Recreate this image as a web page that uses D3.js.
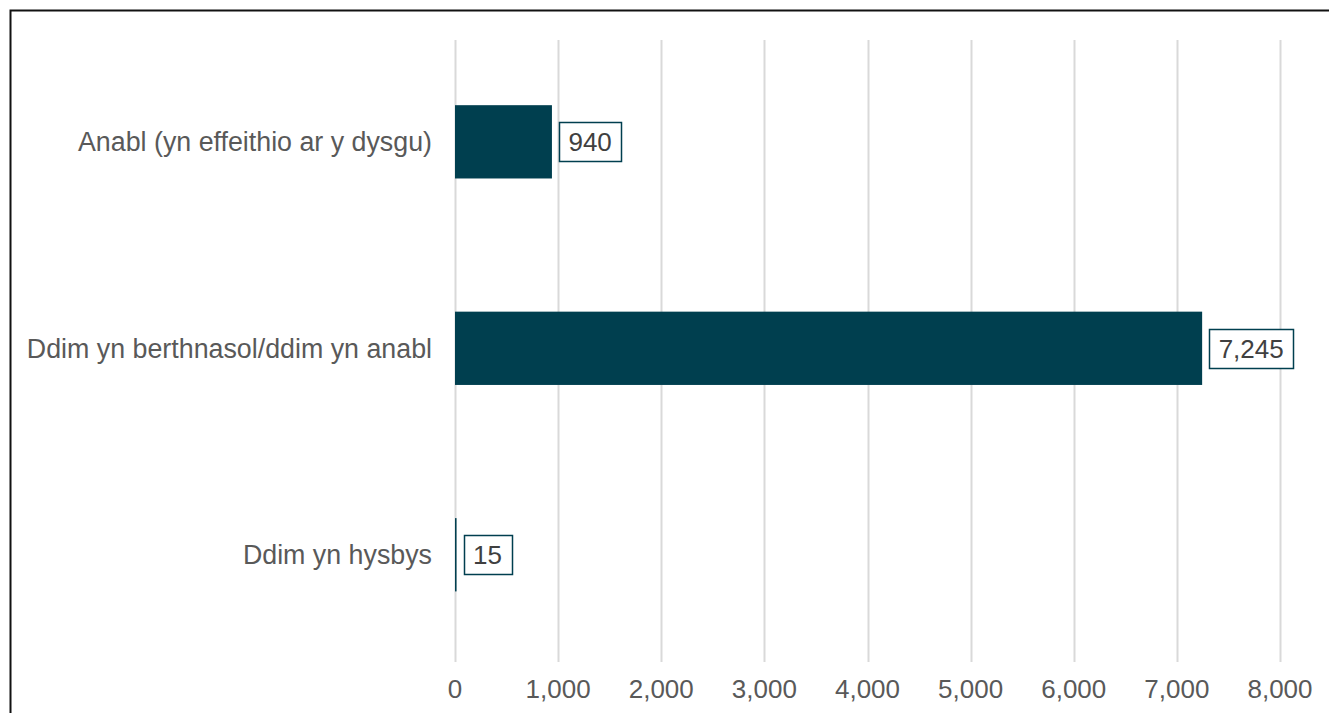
<!DOCTYPE html>
<html>
<head>
<meta charset="utf-8">
<script src="https://cdn.jsdelivr.net/npm/d3@7"></script>
<style>
  body { margin: 0; background: #fff; }
  text { font-family: "Liberation Sans", Arial, sans-serif; }
</style>
</head>
<body>
<div id="chart"></div>
<script>
// data
var categories = ['Anabl (yn effeithio ar y dysgu)', 'Ddim yn berthnasol/ddim yn anabl', 'Ddim yn hysbys'];
var values = [940, 7245, 15];
var xTicks = [0, 1000, 2000, 3000, 4000, 5000, 6000, 7000, 8000];

var width = 1329,
  height = 713,
  plotLeft = 455,
  plotRight = 1280,
  plotTop = 38.6,
  plotBottom = 658,
  barColor = '#003f4f';

var svg = d3.select('#chart').append('svg')
  .attr('width', width)
  .attr('height', height);

// frame
svg.append('path')
  .attr('d', 'M10.5,' + height + 'V10.5H' + width)
  .attr('fill', 'none')
  .attr('stroke', '#111')
  .attr('stroke-width', 2);

var x = d3.scaleLinear().domain([0, 8000]).range([plotLeft, plotRight]);
var y = d3.scaleBand().domain(categories).range([plotTop, plotBottom]).paddingInner(0.645).paddingOuter(0.3225);

// gridlines
svg.append('g').selectAll('line').data(xTicks).enter().append('line')
  .attr('x1', function(d) { return Math.round(x(d)) + 0.5; })
  .attr('x2', function(d) { return Math.round(x(d)) + 0.5; })
  .attr('y1', 40)
  .attr('y2', 662)
  .attr('stroke', '#d9d9d9')
  .attr('stroke-width', 2);

// x tick labels
var fmt = d3.format(',');
svg.append('g').selectAll('text').data(xTicks).enter().append('text')
  .attr('x', function(d) { return x(d); })
  .attr('y', 698)
  .attr('text-anchor', 'middle')
  .attr('font-size', 26)
  .attr('fill', '#595959')
  .text(function(d) { return fmt(d); });

// category labels
svg.append('g').selectAll('text').data(categories).enter().append('text')
  .attr('x', 432)
  .attr('y', function(d) { return y(d) + y.bandwidth() / 2 + 9.5; })
  .attr('text-anchor', 'end')
  .attr('font-size', 26.8)
  .attr('fill', '#595959')
  .text(function(d) { return d; });

// bars
svg.append('g').selectAll('rect').data(values).enter().append('rect')
  .attr('x', x(0))
  .attr('y', function(d, i) { return y(categories[i]); })
  .attr('width', function(d) { return Math.max(1.5, x(d) - x(0)); })
  .attr('height', y.bandwidth())
  .attr('fill', barColor);

// value labels in boxes
var lbl = svg.append('g').selectAll('g').data(values).enter().append('g');
lbl.append('text')
  .attr('x', function(d) { return Math.max(x(d), x(0) + 1.5) + 7 + 9.5; })
  .attr('y', function(d, i) { return y(categories[i]) + y.bandwidth() / 2 + 9.5; })
  .attr('font-size', 26)
  .attr('fill', '#404040')
  .text(function(d) { return fmt(d); });
lbl.each(function(d, i) {
  var g = d3.select(this);
  var bb = g.select('text').node().getBBox();
  var cy = y(categories[i]) + y.bandwidth() / 2;
  g.insert('rect', 'text')
    .attr('x', Math.round(bb.x - 9.5) + 0.5)
    .attr('y', Math.round(cy - 19.5) + 0.5)
    .attr('width', Math.round(bb.width + 19))
    .attr('height', 39)
    .attr('fill', '#fff')
    .attr('stroke', barColor)
    .attr('stroke-width', 1.5);
});
</script>
</body>
</html>
